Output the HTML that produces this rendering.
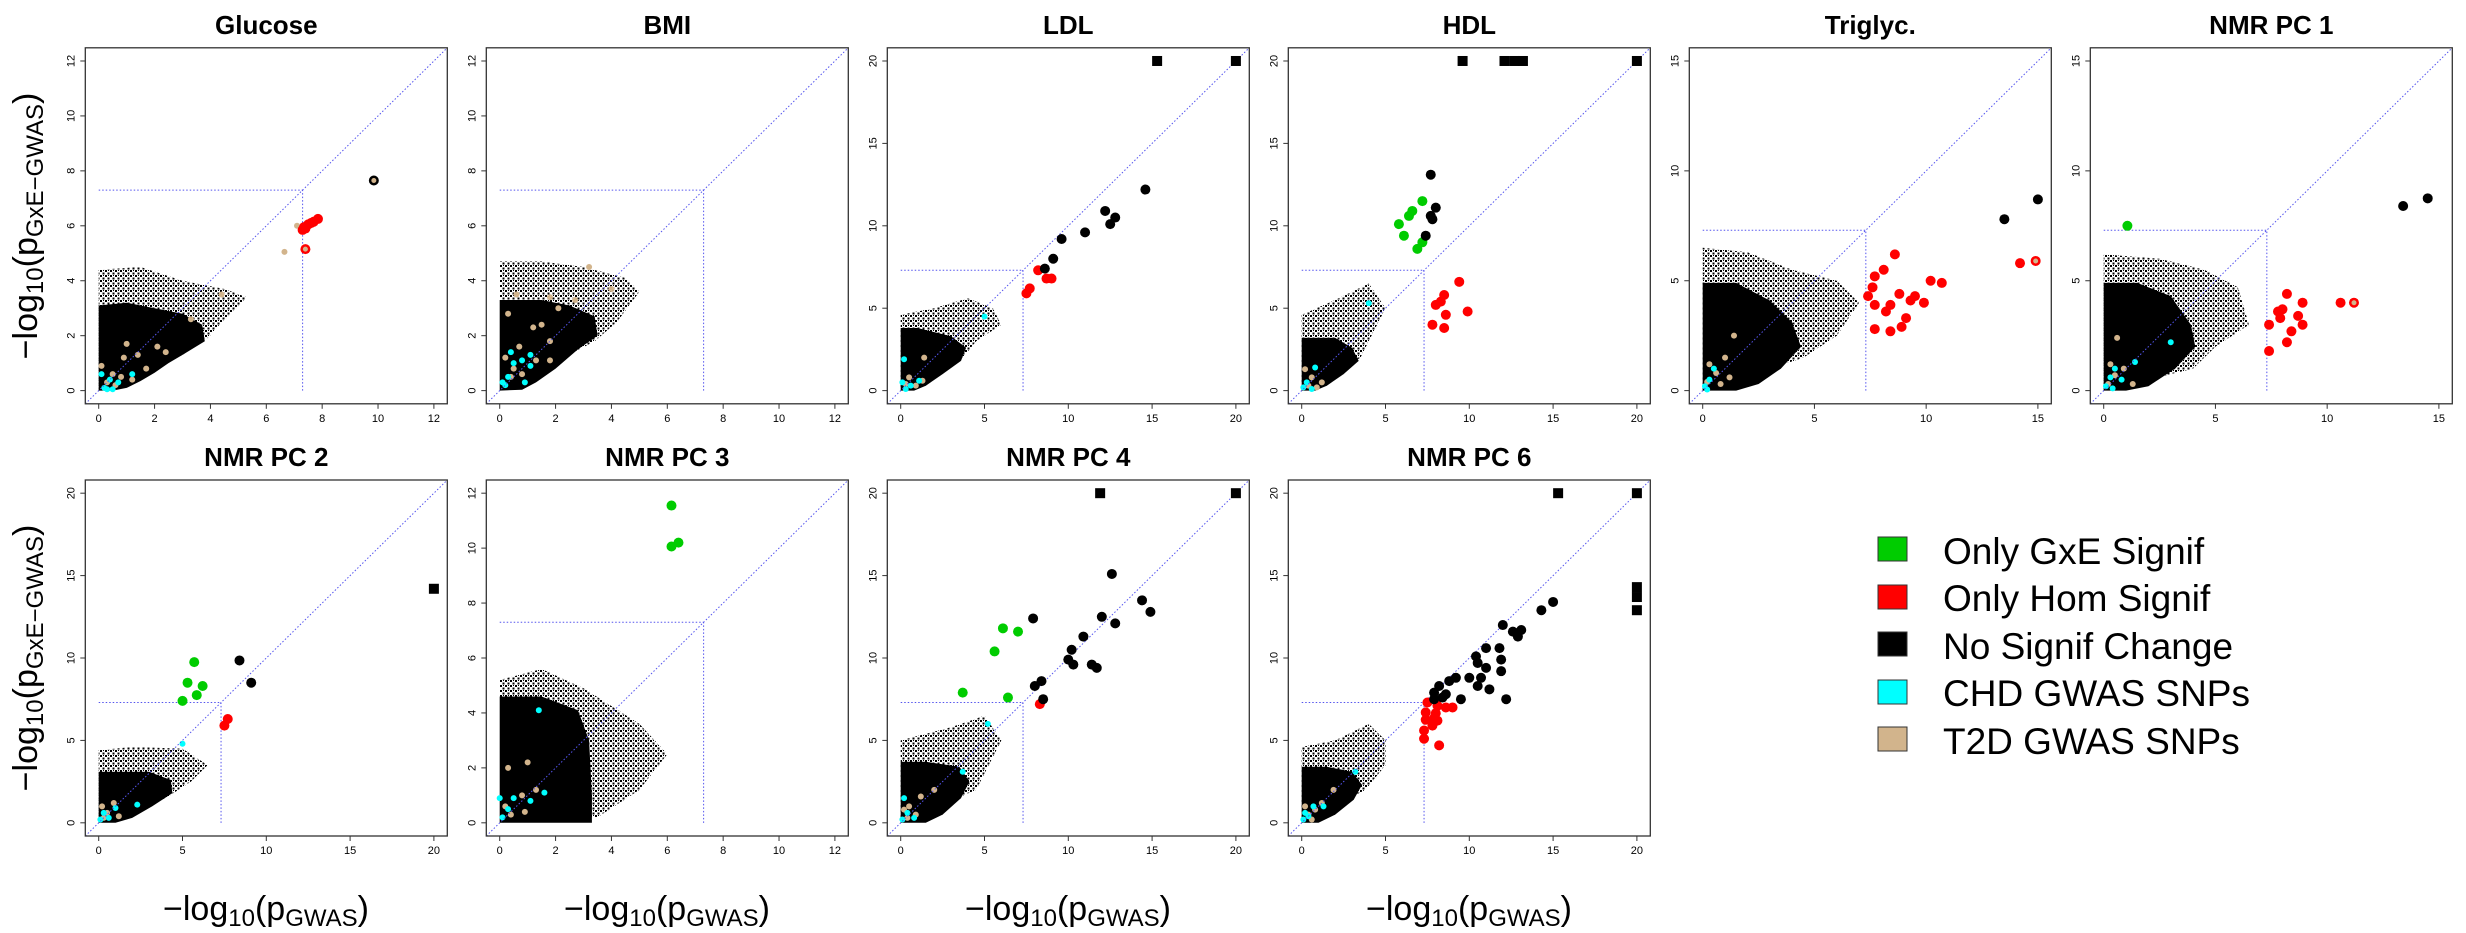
<!DOCTYPE html>
<html><head><meta charset="utf-8">
<style>
html,body{margin:0;padding:0;background:#fff;}
svg{display:block;font-family:"Liberation Sans",sans-serif;}
</style></head>
<body>
<svg id="fig" width="2466" height="933" viewBox="0 0 2466 933" xmlns="http://www.w3.org/2000/svg">
<defs>
<pattern id="sparse" width="5" height="5" patternUnits="userSpaceOnUse"><rect x="0" y="0" width="2" height="2" fill="#000"/><rect x="2.5" y="2.5" width="2" height="2" fill="#000"/><rect x="3" y="0" width="1" height="1" fill="#000"/></pattern>
</defs>
<g id="panels"></g>
<g font-size="37">
<rect x="1878" y="537" width="29" height="24" fill="#00cc00" stroke="#333"/>
<text x="1943" y="564">Only GxE Signif</text>
<rect x="1878" y="585" width="29" height="24" fill="#ff0000" stroke="#333"/>
<text x="1943" y="611">Only Hom Signif</text>
<rect x="1878" y="632" width="29" height="24" fill="#000" stroke="#333"/>
<text x="1943" y="659">No Signif Change</text>
<rect x="1878" y="680" width="29" height="24" fill="#00ffff" stroke="#333"/>
<text x="1943" y="706">CHD GWAS SNPs</text>
<rect x="1878" y="727" width="29" height="24" fill="#d2b48c" stroke="#333"/>
<text x="1943" y="754">T2D GWAS SNPs</text>
</g>
<g font-size="34">
<text transform="translate(37,226) rotate(-90)" text-anchor="middle">−log<tspan font-size="24" dy="6">10</tspan><tspan dy="-6">(p</tspan><tspan font-size="24" dy="6">GxE−GWAS</tspan><tspan dy="-6">)</tspan></text>
<text transform="translate(37,658) rotate(-90)" text-anchor="middle">−log<tspan font-size="24" dy="6">10</tspan><tspan dy="-6">(p</tspan><tspan font-size="24" dy="6">GxE−GWAS</tspan><tspan dy="-6">)</tspan></text>
<text x="266" y="920" text-anchor="middle">−log<tspan font-size="24" dy="6">10</tspan><tspan dy="-6">(p</tspan><tspan font-size="24" dy="6">GWAS</tspan><tspan dy="-6">)</tspan></text>
<text x="667" y="920" text-anchor="middle">−log<tspan font-size="24" dy="6">10</tspan><tspan dy="-6">(p</tspan><tspan font-size="24" dy="6">GWAS</tspan><tspan dy="-6">)</tspan></text>
<text x="1068" y="920" text-anchor="middle">−log<tspan font-size="24" dy="6">10</tspan><tspan dy="-6">(p</tspan><tspan font-size="24" dy="6">GWAS</tspan><tspan dy="-6">)</tspan></text>
<text x="1469" y="920" text-anchor="middle">−log<tspan font-size="24" dy="6">10</tspan><tspan dy="-6">(p</tspan><tspan font-size="24" dy="6">GWAS</tspan><tspan dy="-6">)</tspan></text>
</g>
</svg>
<script>
// ---- data (in -log10 p units) ----
const glucoseCore=[[0,0],[0,3.1],[1,3.2],[2,3.0],[3,2.8],[3.7,2.4],[3.8,1.8],[3,1.3],[2.5,1.0],[2,0.65],[1.5,0.35],[1,0.1],[0.5,0]];
const glucoseFringe=[[0,0],[0,4.4],[1.5,4.5],[3,4.0],[4.5,3.7],[5.3,3.4],[4.5,2.6],[3.9,1.9],[3,1.3]];
const glucoseTan=[[0.1,0.9],[0.3,0.3],[0.5,0.6],[0.8,0.5],[1,1.7],[0.9,1.2],[1.4,1.3],[2.4,1.4],[2.1,1.6],[1.7,0.8],[3.3,2.6],[0.6,0.2],[1.2,0.4],[4.4,3.5],[6.65,5.05],[7.1,6.0]];
const glucoseCyan=[[0.1,0.6],[0.2,0.1],[0.4,0.4],[0.3,0.05],[0.5,0.05],[1.2,0.6],[0.7,0.3]];
const glucoseGreen=[];
const glucoseRed=[[7.3,5.85],[7.35,5.95],[7.4,5.9],[7.5,6.05],[7.6,6.1],[7.7,6.15],[7.85,6.25],[7.4,5.15]];
const glucoseBlack=[[9.85,7.65]];
const glucoseSquares=[];
const glucoseHollow=[[7.4,5.15],[9.85,7.65]];

const bmiCore=[[0,0],[0,3.3],[1.5,3.3],[2.5,3.1],[3.4,2.7],[3.5,2.0],[2.8,1.5],[2,0.8],[1.3,0.3],[0.8,0.03]];
const bmiFringe=[[0,0],[0,4.7],[1.5,4.7],[3,4.5],[4.5,4.1],[5,3.6],[4.2,2.5],[3.4,1.8]];
const bmiTan=[[0.3,2.8],[0.6,3.5],[1.2,2.3],[1.5,2.4],[1.8,3.4],[2.1,3.0],[2.7,3.3],[1.8,1.8],[1.8,1.1],[3.2,4.5],[4,3.7],[0.2,1.2],[0.5,0.8],[0.7,1.6],[1.3,1.1],[0.8,0.6],[0.4,0.5]];
const bmiCyan=[[0.2,0.2],[0.3,0.5],[0.5,1.0],[0.8,1.1],[1.1,1.3],[1.1,0.9],[0.4,1.4],[0.9,0.3],[0.1,0.3]];
const bmiGreen=[];
const bmiRed=[];
const bmiBlack=[];
const bmiSquares=[];
const bmiHollow=[];

const ldlCore=[[0,0],[0,3.8],[1,3.8],[3,3.3],[3.9,2.6],[3.6,1.8],[2.5,1.0],[1.5,0.3],[0.8,0]];
const ldlFringe=[[0,0],[0,4.6],[2,5],[4,5.6],[5.5,5],[6,4],[4.5,3],[3.7,2]];
const ldlTan=[[0.5,0.8],[1.3,0.6],[1.4,2.0],[0.3,0.4],[0.9,0.3]];
const ldlCyan=[[0.2,1.9],[5,4.5],[0.1,0.5],[0.3,0.1],[0.6,0.3],[1.1,0.6]];
const ldlGreen=[];
const ldlRed=[[8.2,7.3],[8.7,6.8],[9.0,6.8],[7.7,6.2],[7.5,5.9]];
const ldlBlack=[[14.6,12.2],[12.2,10.9],[12.8,10.5],[12.5,10.1],[11,9.6],[9.6,9.2],[9.1,8.0],[8.6,7.4]];
const ldlSquares=[[15.3,20],[20,20]];
const ldlHollow=[];

const hdlCore=[[0,0],[0,3.2],[2,3.2],[3,2.6],[3.4,1.8],[2.5,1.0],[1.5,0.3],[0.8,0]];
const hdlFringe=[[0,0],[0,4.6],[2,5.5],[4,6.5],[5,5],[4,3],[3.5,2]];
const hdlTan=[[0.2,1.3],[0.6,0.8],[1.2,0.5],[0.4,0.3],[0.9,0.2]];
const hdlCyan=[[4,5.3],[0.8,1.4],[0.1,0.2],[0.3,0.5],[0.6,0.1]];
const hdlGreen=[[7.2,11.5],[6.6,10.9],[6.4,10.6],[5.8,10.1],[6.1,9.4],[7.2,9.0],[6.9,8.6]];
const hdlRed=[[9.4,6.6],[8.5,5.8],[8,5.2],[8.6,4.6],[9.9,4.8],[7.8,4.0],[8.5,3.8],[8.3,5.4]];
const hdlBlack=[[7.7,13.1],[8,11.1],[7.7,10.6],[7.8,10.4],[7.4,9.4]];
const hdlSquares=[[9.6,20],[12.1,20],[12.7,20],[13.2,20],[20,20]];
const hdlHollow=[];

const trigCore=[[0,0],[0,4.9],[1.5,4.9],[3,4.1],[4,3.1],[4.4,2.0],[3.5,1],[2.5,0.3],[1.5,0]];
const trigFringe=[[0,0],[0,6.5],[2,6.3],[4,5.5],[6,5],[7,4],[6,2.5],[4.5,1.5]];
const trigTan=[[0.3,1.2],[0.6,0.8],[1.0,1.5],[1.4,2.5],[0.2,0.4],[0.8,0.3],[1.2,0.6]];
const trigCyan=[[0.1,0.2],[0.3,0.5],[0.5,1.0],[0.2,0.05]];
const trigGreen=[];
const trigRed=[[8.6,6.2],[8.1,5.5],[7.7,5.2],[7.6,4.7],[10.2,5.0],[10.7,4.9],[8.8,4.4],[9.5,4.3],[9.3,4.1],[9.9,4.0],[7.4,4.3],[7.7,3.9],[8.4,3.9],[8.2,3.6],[9.1,3.3],[8.9,2.9],[7.7,2.8],[8.4,2.7],[14.2,5.8],[14.9,5.9]];
const trigBlack=[[15,8.7],[13.5,7.8]];
const trigSquares=[];
const trigHollow=[[14.9,5.9]];

const pc1Core=[[0,0],[0,4.9],[1.5,4.9],[3,4.3],[3.9,3],[4.1,2],[3.2,1],[2,0.2],[1,0]];
const pc1Fringe=[[0,0],[0,6.2],[2.5,6],[4.5,5.5],[6,4.7],[6.5,3],[5,2],[4,1]];
const pc1Tan=[[0.3,1.2],[0.5,0.7],[0.9,1.0],[0.6,2.4],[1.3,0.3],[0.2,0.3]];
const pc1Cyan=[[0.1,0.2],[0.3,0.6],[0.5,1.0],[0.4,0.1],[0.8,0.5],[1.4,1.3],[3,2.2]];
const pc1Green=[[1.06,7.5]];
const pc1Red=[[8.2,4.4],[8.0,3.7],[7.9,3.3],[8.7,3.4],[8.9,3.0],[8.4,2.7],[7.4,3.0],[8.2,2.2],[7.4,1.8],[10.6,4.0],[11.2,4.0],[8.9,4.0],[7.8,3.6]];
const pc1Black=[[14.5,8.75],[13.4,8.4]];
const pc1Squares=[];
const pc1Hollow=[[11.2,4.0]];

const pc2Core=[[0,0],[0,3.1],[1.5,3.1],[3,3.1],[4.3,2.6],[4.4,1.8],[3.2,1],[2,0.3],[1,0]];
const pc2Fringe=[[0,0],[0,4.4],[2,4.6],[5,4.5],[6.5,3.5],[5.5,2.5],[4,1.5]];
const pc2Tan=[[0.2,1.0],[0.5,0.6],[0.9,1.2],[1.2,0.4],[0.3,0.3]];
const pc2Cyan=[[0.1,0.2],[0.3,0.6],[0.6,0.3],[1.0,0.9],[2.3,1.1],[5,4.8]];
const pc2Green=[[5.7,9.75],[5.3,8.5],[6.2,8.3],[5.85,7.75],[5.0,7.4]];
const pc2Red=[[7.7,6.3],[7.5,5.9]];
const pc2Black=[[8.4,9.85],[9.1,8.5]];
const pc2Squares=[[20,14.2]];
const pc2Hollow=[];

const pc3Core=[[0,0],[0,4.6],[1.5,4.6],[2.8,4.1],[3.2,3],[3.3,1],[3.3,0]];
const pc3Fringe=[[0,0],[0,5.2],[1.5,5.6],[3,4.9],[5,3.6],[6,2.5],[5,1.2],[3.5,0.2]];
const pc3Tan=[[0.2,0.6],[0.4,0.3],[0.8,1.0],[1.0,2.2],[0.9,0.4],[1.3,1.2],[0.3,2.0]];
const pc3Cyan=[[0.1,0.2],[0.3,0.5],[0.5,0.9],[1.1,0.8],[1.6,1.1],[1.4,4.1],[0,0.9]];
const pc3Green=[[6.15,11.55],[6.15,10.06],[6.4,10.2]];
const pc3Red=[];
const pc3Black=[];
const pc3Squares=[];
const pc3Hollow=[];

const pc4Core=[[0,0],[0,3.7],[1.5,3.7],[3.5,3.4],[4.1,2.5],[3.6,1.5],[2.5,0.5],[1.5,0]];
const pc4Fringe=[[0,0],[0,5],[3,5.8],[5,6.5],[6,5],[5,3],[4.5,2]];
const pc4Tan=[[0.2,0.8],[0.5,1.0],[1.2,1.6],[2.0,2.0],[0.4,0.3],[0.9,0.5]];
const pc4Cyan=[[0.1,0.2],[0.2,1.5],[0.4,0.6],[0.8,0.3],[3.7,3.1],[5.2,6.0]];
const pc4Green=[[6.1,11.8],[7,11.6],[5.6,10.4],[3.7,7.9],[6.4,7.6]];
const pc4Red=[[8.3,7.2]];
const pc4Black=[[12.6,15.1],[14.4,13.5],[14.9,12.8],[7.9,12.4],[12,12.5],[12.8,12.1],[10.9,11.3],[10.2,10.5],[10,9.9],[10.3,9.6],[11.4,9.6],[11.7,9.4],[8,8.3],[8.4,8.6],[8.5,7.5]];
const pc4Squares=[[11.9,20],[20,20]];
const pc4Hollow=[];

const pc6Core=[[0,0],[0,3.4],[1.5,3.4],[3,3.1],[3.6,2.3],[3.1,1.4],[2,0.5],[1,0]];
const pc6Fringe=[[0,0],[0,4.6],[2,5],[4,6],[5,5],[5,3.5],[3.8,2]];
const pc6Tan=[[0.2,1.0],[0.4,0.5],[0.8,0.8],[1.2,1.2],[1.9,2.0],[0.6,0.2]];
const pc6Cyan=[[0.1,0.2],[0.2,0.6],[0.4,0.4],[0.7,1.0],[1.3,1.0],[3.2,3.1]];
const pc6Green=[];
const pc6Red=[[7.5,7.3],[8.1,7.1],[9.0,7.0],[8.6,7.0],[7.4,6.7],[8,6.65],[7.4,6.25],[7.9,6.35],[7.8,5.9],[7.3,5.6],[7.3,5.1],[8.2,4.7],[8.1,6.2]];
const pc6Black=[[15,13.4],[14.3,12.9],[12,12],[12.6,11.6],[13.1,11.7],[12.9,11.3],[11,10.6],[11.8,10.6],[10.4,10.1],[11.9,9.9],[10.5,9.7],[11,9.4],[11.9,9.2],[10,8.8],[10.7,8.8],[9.2,8.8],[8.8,8.6],[8.2,8.3],[10.5,8.3],[11.2,8.1],[12.2,7.5],[9.5,7.5],[8.6,7.8],[7.9,7.9],[8.4,7.6],[7.9,7.5]];
const pc6Squares=[[15.3,20],[20,20],[20,14.3],[20,13.7],[20,12.9]];
const pc6Hollow=[];

const panelTitles=["Glucose","BMI","LDL","HDL","Triglyc.","NMR PC 1","NMR PC 2","NMR PC 3","NMR PC 4","NMR PC 6"];
const panelMax=[12,12,20,20,15,15,20,12,20,20];
const panelStep=[2,2,5,5,5,5,5,2,5,5];
const threshold=7.3;

// ---- drawing ----
const NS="http://www.w3.org/2000/svg";
const root=document.getElementById('panels');
const data=[
 [glucoseCore,glucoseFringe,glucoseTan,glucoseCyan,glucoseGreen,glucoseRed,glucoseBlack,glucoseSquares,glucoseHollow],
 [bmiCore,bmiFringe,bmiTan,bmiCyan,bmiGreen,bmiRed,bmiBlack,bmiSquares,bmiHollow],
 [ldlCore,ldlFringe,ldlTan,ldlCyan,ldlGreen,ldlRed,ldlBlack,ldlSquares,ldlHollow],
 [hdlCore,hdlFringe,hdlTan,hdlCyan,hdlGreen,hdlRed,hdlBlack,hdlSquares,hdlHollow],
 [trigCore,trigFringe,trigTan,trigCyan,trigGreen,trigRed,trigBlack,trigSquares,trigHollow],
 [pc1Core,pc1Fringe,pc1Tan,pc1Cyan,pc1Green,pc1Red,pc1Black,pc1Squares,pc1Hollow],
 [pc2Core,pc2Fringe,pc2Tan,pc2Cyan,pc2Green,pc2Red,pc2Black,pc2Squares,pc2Hollow],
 [pc3Core,pc3Fringe,pc3Tan,pc3Cyan,pc3Green,pc3Red,pc3Black,pc3Squares,pc3Hollow],
 [pc4Core,pc4Fringe,pc4Tan,pc4Cyan,pc4Green,pc4Red,pc4Black,pc4Squares,pc4Hollow],
 [pc6Core,pc6Fringe,pc6Tan,pc6Cyan,pc6Green,pc6Red,pc6Black,pc6Squares,pc6Hollow]
];
function mk(tag,attrs,parent){const e=document.createElementNS(NS,tag);for(const k in attrs)e.setAttribute(k,attrs[k]);parent.appendChild(e);return e;}
const W=362,H=356,X0=85.3,PITCH=401,ROWY=[47.8,480];
panelTitles.forEach((title,i)=>{
  const col=i<6?i:i-6,row=i<6?0:1;
  const L=X0+col*PITCH,T=ROWY[row];
  const mx=panelMax[i],lo=-0.04*mx,hi=1.04*mx;
  const sx=v=>L+(v-lo)/(hi-lo)*W;
  const sy=v=>T+H-(v-lo)/(hi-lo)*H;
  const slug=title.toLowerCase().replace(/[^a-z0-9]+/g,'-').replace(/-$/,'');
  const g=mk('g',{},root);
  
  
  const cid='clip'+i;
  const cp=mk('clipPath',{id:cid},g);mk('rect',{x:L,y:T,width:W,height:H},cp);
  const t=mk('text',{x:L+W/2,y:T-14,'text-anchor':'middle','font-size':'26','font-weight':'bold'},g);
  t.textContent=title;
  
  
  const [core,fringe,tan,cyan,green,red,black,squares,hollow]=data[i];
  const pg=mk('g',{'clip-path':'url(#'+cid+')'},g);
  const poly=(pts)=>pts.map(p=>sx(p[0]).toFixed(1)+','+sy(p[1]).toFixed(1)).join(' ');
  const f=mk('polygon',{points:poly(fringe),fill:'url(#sparse)'},pg);
  
  
  const c=mk('polygon',{points:poly(core),fill:'#000'},pg);
  
  
  tan.forEach(p=>{const e=mk('circle',{cx:sx(p[0]),cy:sy(p[1]),r:3,fill:'#d2b48c'},pg);
    
    });
  cyan.forEach(p=>{const e=mk('circle',{cx:sx(p[0]),cy:sy(p[1]),r:3,fill:'#00ffff'},pg);
    
    });
  const ls={stroke:'#5555ee','stroke-width':1,'stroke-dasharray':'1.5,2',fill:'none'};
  const d=mk('line',Object.assign({x1:sx(lo),y1:sy(lo),x2:sx(hi),y2:sy(hi)},ls),pg);
  
  
  const h=mk('line',Object.assign({x1:sx(0),y1:sy(threshold),x2:sx(threshold),y2:sy(threshold)},ls),pg);
  
  
  const v=mk('line',Object.assign({x1:sx(threshold),y1:sy(0),x2:sx(threshold),y2:sy(threshold)},ls),pg);
  
  
  const dot=(arr,col,name)=>arr.forEach(p=>{const e=mk('circle',{cx:sx(p[0]),cy:sy(p[1]),r:5,fill:col},pg);
    
    });
  dot(green,'#00cc00','gxe-signif-point');
  dot(red,'#ff0000','hom-signif-point');
  dot(black,'#000000','no-change-point');
  hollow.forEach(p=>{const e=mk('circle',{cx:sx(p[0]),cy:sy(p[1]),r:2.5,fill:'#d2b48c'},pg);
    
    });
  squares.forEach(p=>{const e=mk('rect',{x:sx(p[0])-5,y:sy(p[1])-5,width:10,height:10,fill:'#000'},pg);
    
    });
  const b=mk('rect',{x:L,y:T,width:W,height:H,fill:'none',stroke:'#333','stroke-width':1.3},g);
  
  
  for(let tv=0;tv<=mx+1e-9;tv+=panelStep[i]){
    mk('line',{x1:sx(tv),y1:T+H,x2:sx(tv),y2:T+H+5,stroke:'#333'},g);
    const xl=mk('text',{x:sx(tv),y:T+H+18,'text-anchor':'middle','font-size':'11'},g);
    xl.textContent=tv;
    
    
    mk('line',{x1:L,y1:sy(tv),x2:L-5,y2:sy(tv),stroke:'#333'},g);
    const yl=mk('text',{transform:'translate('+(L-11)+','+sy(tv)+') rotate(-90)','text-anchor':'middle','font-size':'11'},g);
    yl.textContent=tv;
    
    
  }
});
</script>
</body></html>
